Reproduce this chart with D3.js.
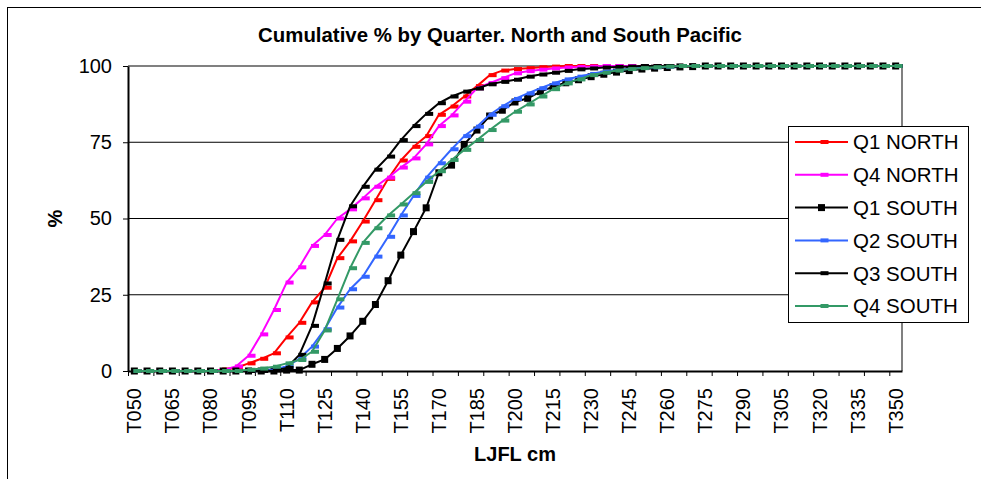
<!DOCTYPE html>
<html>
<head>
<meta charset="utf-8">
<script src="https://cdn.jsdelivr.net/npm/d3@7"></script>
<style>
  body { margin: 0; background: #fff; }
  svg { display: block; font-family: Arial, "Liberation Sans", sans-serif; }
</style>
</head>
<body>
<svg id="chart" width="981" height="479"></svg>
<script>
// length classes, 5 cm bins
const categories = [
  "T050","T055","T060","T065","T070","T075","T080","T085","T090","T095",
  "T100","T105","T110","T115","T120","T125","T130","T135","T140","T145",
  "T150","T155","T160","T165","T170","T175","T180","T185","T190","T195",
  "T200","T205","T210","T215","T220","T225","T230","T235","T240","T245",
  "T250","T255","T260","T265","T270","T275","T280","T285","T290","T295",
  "T300","T305","T310","T315","T320","T325","T330","T335","T340","T345",
  "T350"
];

const q1North = [
  0,0,0,0,0,0,0,0.5,1,2.5,
  4,5.8,11,15.8,22.5,27.3,37,42.5,49,56,
  63,69,73.5,77,84,86.7,90,93.4,97,98.5,
  99,99.3,99.6,99.8,100,100,100,100,100,100,
  100,100,100,100,100,100,100,100,100,100,
  100,100,100,100,100,100,100,100,100,100,
  100
];
const q4North = [
  0,0,0,0,0,0,0,0.3,1.5,5,
  12,20,29,34,41,44.6,50,53,56.6,60.4,
  63.4,66.7,69.7,74.3,80.3,83.8,88.3,92.7,94.4,96,
  97.6,98.3,98.8,99.2,99.5,99.7,99.8,100,100,100,
  100,100,100,100,100,100,100,100,100,100,
  100,100,100,100,100,100,100,100,100,100,
  100
];
const q1South = [
  0,0,0,0,0,0,0,0,0,0,
  0,0,0.3,0.3,2.2,3.8,7.4,11.5,16.3,21.8,
  29.6,38,45.7,53.5,65,67.5,74.3,79,83.6,85.5,
  88.2,89.4,91.6,93.2,94.5,95.5,96.5,97.3,98,98.5,
  99,99.3,99.5,99.7,99.8,100,100,100,100,100,
  100,100,100,100,100,100,100,100,100,100,
  100
];
const q2South = [
  0,0,0,0,0,0,0,0,0,0,
  0.3,0.5,1.5,4,8,13.7,20.8,26.8,30.9,37.5,
  44,51,57.4,63.4,68.1,72.7,77,80.1,84,86.8,
  89.2,91,92.7,94.3,95.6,96.5,97.4,98.2,98.7,99.1,
  99.4,99.6,99.8,100,100,100,100,100,100,100,
  100,100,100,100,100,100,100,100,100,100,
  100
];
const q3South = [
  0,0,0,0,0,0,0,0,0,0,
  0,0.2,1,5.3,14.8,28.7,43,54,60.4,66,
  70.3,75.7,80.3,84.3,87.8,90,91.6,92.6,94,94.8,
  95.5,96.5,97.2,97.8,98.4,98.9,99.2,99.5,99.7,99.8,
  100,100,100,100,100,100,100,100,100,100,
  100,100,100,100,100,100,100,100,100,100,
  100
];
const q4South = [
  0,0,0,0,0,0,0,0,0,0.4,
  0.8,1.4,2.5,3.6,6.3,13.3,23.5,33.7,42,46.8,
  51,54.6,58.3,62,65.5,69.2,72.5,75.7,79,82.1,
  85,87.4,90,92.4,94.3,95.6,97,97.8,98.5,99,
  99.3,99.6,99.8,100,100,100,100,100,100,100,
  100,100,100,100,100,100,100,100,100,100,
  100
];

const seriesNames = ["Q1 NORTH", "Q4 NORTH", "Q1 SOUTH", "Q2 SOUTH", "Q3 SOUTH", "Q4 SOUTH"];
const seriesValues = [q1North, q4North, q1South, q2South, q3South, q4South];
const seriesColors = ["#ff0000", "#ff00ff", "#000000", "#3366ff", "#000000", "#339966"];
const seriesMarkers = ["dash", "dash", "square", "dash", "dash", "dash"];
const yTicks = [0, 25, 50, 75, 100];

const svg = d3.select("#chart");
const plot = { left: 128, right: 902, top: 66, bottom: 371 };
const tickFont = "20px";
const legendFont = "20.5px";

// chart area border (only top/left visible in the frame)
svg.append("rect")
  .attr("x", 7.5).attr("y", 7.5)
  .attr("width", 1000).attr("height", 500)
  .attr("fill", "none")
  .attr("stroke", "#000")
  .attr("stroke-width", 1);

const x = d3.scaleBand()
  .domain(categories)
  .range([plot.left, plot.right])
  .padding(0);
const xc = d => x(d) + x.bandwidth() / 2;

// band boundaries for tick marks
const xb = d3.scaleLinear()
  .domain([0, categories.length])
  .range([plot.left, plot.right]);

const y = d3.scaleLinear()
  .domain([0, 100])
  .range([plot.bottom, plot.top]);

// gridlines
svg.append("g")
  .selectAll("line")
  .data(yTicks.filter(v => v > 0 && v < 100))
  .join("line")
  .attr("x1", plot.left).attr("x2", plot.right)
  .attr("y1", d => y(d)).attr("y2", d => y(d))
  .attr("stroke", "#000")
  .attr("stroke-width", 1);

// plot area border top + right (gray)
svg.append("path")
  .attr("d", `M${plot.left},${y(100)}H${plot.right}V${plot.bottom}`)
  .attr("fill", "none")
  .attr("stroke", "#808080")
  .attr("stroke-width", 2);

// y axis
const yAxis = svg.append("g")
  .attr("transform", `translate(${plot.left},0)`)
  .call(d3.axisLeft(y).tickValues(yTicks).tickSize(5).tickPadding(11).tickSizeOuter(0));
yAxis.select(".domain").attr("stroke", "#000").attr("stroke-width", 2);
yAxis.selectAll(".tick line").attr("stroke", "#000");
yAxis.selectAll("text")
  .style("font-size", tickFont)
  .style("fill", "#000");

// x axis tick marks (every second bin)
const xTickAxis = svg.append("g")
  .attr("transform", `translate(0,${plot.bottom})`)
  .call(d3.axisBottom(xb)
    .tickValues(d3.range(0, categories.length, 2))
    .tickFormat("")
    .tickSize(5)
    .tickSizeOuter(0));
xTickAxis.select(".domain").attr("stroke", "#000").attr("stroke-width", 2);
xTickAxis.selectAll(".tick line").attr("stroke", "#000");

// x axis labels (every third bin, rotated)
const xLabelAxis = svg.append("g")
  .attr("transform", `translate(0,${plot.bottom})`)
  .call(d3.axisBottom(x)
    .tickValues(categories.filter((d, i) => i % 3 === 0))
    .tickSize(0));
xLabelAxis.select(".domain").remove();
xLabelAxis.selectAll("text")
  .attr("transform", "rotate(-90)")
  .attr("x", -17)
  .attr("y", 0)
  .attr("dy", "0.35em")
  .attr("text-anchor", "end")
  .style("font-size", tickFont)
  .style("fill", "#000");

// series
const line = d3.line()
  .x((d, i) => xc(categories[i]))
  .y(d => y(d));

seriesValues.forEach((vals, s) => {
  const g = svg.append("g").attr("class", "series");
  g.append("path")
    .datum(vals)
    .attr("d", line)
    .attr("fill", "none")
    .attr("stroke", seriesColors[s])
    .attr("stroke-width", 2)
    .attr("stroke-linejoin", "round");

  if (seriesMarkers[s] === "square") {
    g.selectAll("rect")
      .data(vals)
      .join("rect")
      .attr("x", (d, i) => xc(categories[i]) - 3.5)
      .attr("y", d => y(d) - 3.5)
      .attr("width", 7).attr("height", 7)
      .attr("fill", seriesColors[s]);
  } else {
    g.selectAll("rect")
      .data(vals)
      .join("rect")
      .attr("x", (d, i) => xc(categories[i]) - 1)
      .attr("y", d => y(d) - 2)
      .attr("width", 8).attr("height", 4)
      .attr("fill", seriesColors[s]);
  }
});

// title
svg.append("text")
  .attr("x", 500)
  .attr("y", 42)
  .attr("text-anchor", "middle")
  .style("font-size", "20.4px")
  .style("font-weight", "bold")
  .text("Cumulative % by Quarter. North and South Pacific");

// axis titles
svg.append("text")
  .attr("transform", `translate(62,${(plot.top + plot.bottom) / 2}) rotate(-90)`)
  .attr("text-anchor", "middle")
  .style("font-size", "20px")
  .style("font-weight", "bold")
  .text("%");

svg.append("text")
  .attr("x", (plot.left + plot.right) / 2)
  .attr("y", 461)
  .attr("text-anchor", "middle")
  .style("font-size", "20px")
  .style("font-weight", "bold")
  .text("LJFL cm");

// legend
const legend = svg.append("g").attr("class", "legend");
legend.append("rect")
  .attr("x", 788.5).attr("y", 126.5)
  .attr("width", 180).attr("height", 196)
  .attr("fill", "#fff")
  .attr("stroke", "#000")
  .attr("stroke-width", 1);

const items = legend.selectAll(".legend-item")
  .data(seriesNames)
  .join("g")
  .attr("class", "legend-item")
  .attr("transform", (d, i) => `translate(0,${142 + i * 32.8})`);

items.append("line")
  .attr("x1", 795).attr("x2", 848)
  .attr("y1", 0).attr("y2", 0)
  .attr("stroke", (d, i) => seriesColors[i])
  .attr("stroke-width", 2);

items.append("rect")
  .attr("x", (d, i) => seriesMarkers[i] === "square" ? 818 : 820.5)
  .attr("y", (d, i) => seriesMarkers[i] === "square" ? -3.5 : -2)
  .attr("width", (d, i) => seriesMarkers[i] === "square" ? 7 : 8)
  .attr("height", (d, i) => seriesMarkers[i] === "square" ? 7 : 4)
  .attr("fill", (d, i) => seriesColors[i]);

items.append("text")
  .attr("x", 853)
  .attr("y", 0)
  .attr("dy", "0.36em")
  .style("font-size", legendFont)
  .text(d => d);
</script>
</body>
</html>
